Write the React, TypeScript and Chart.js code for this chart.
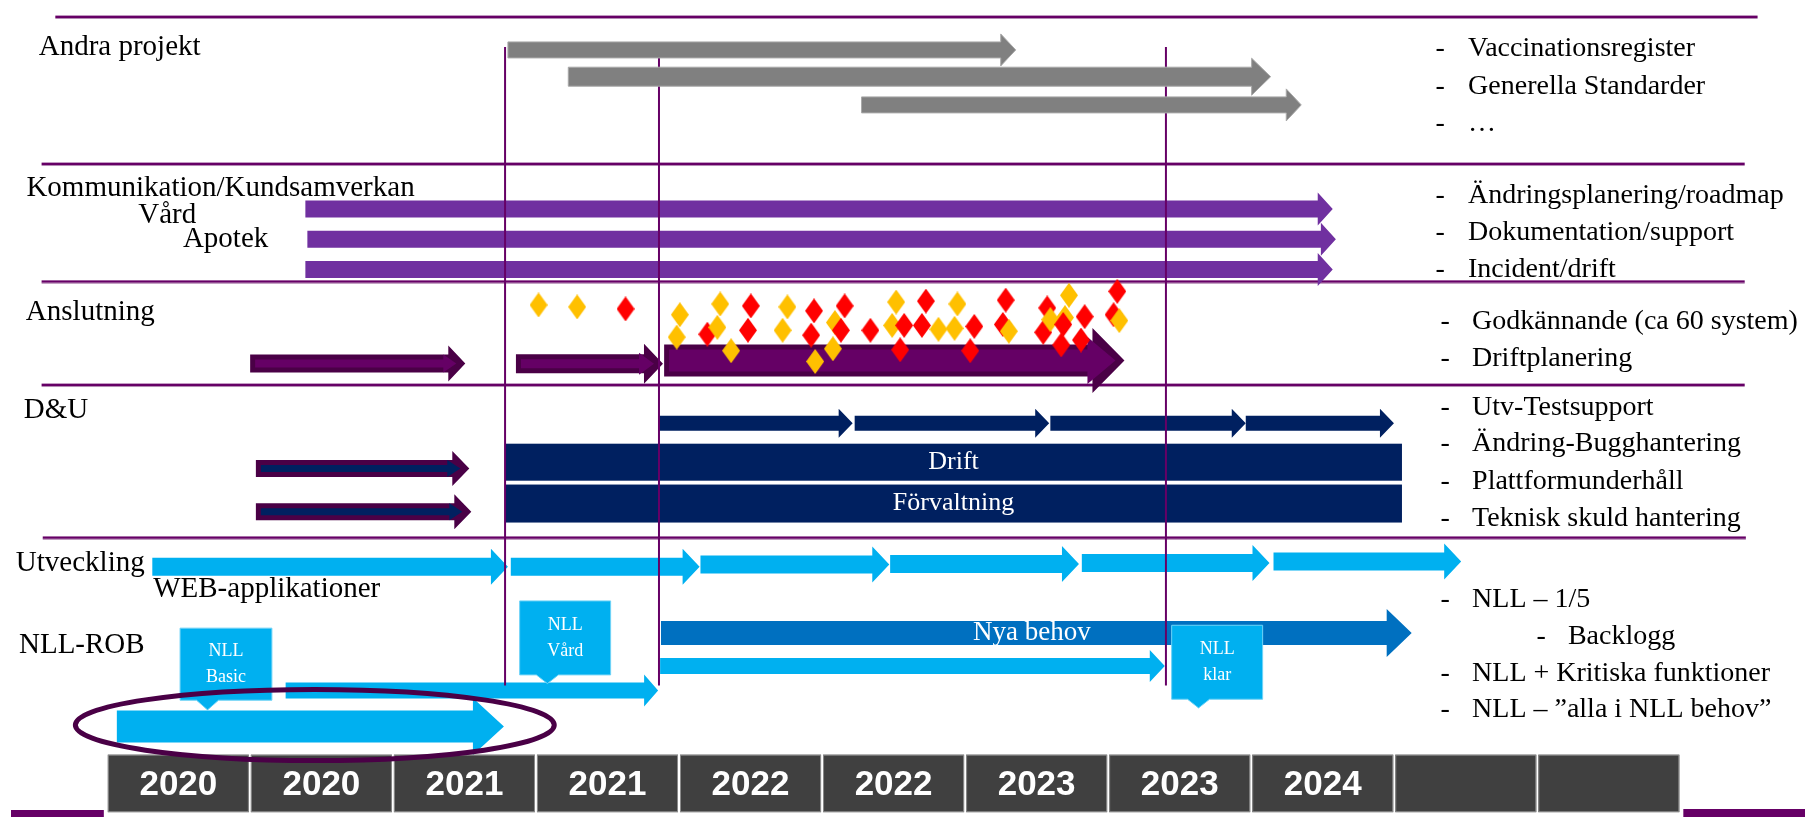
import React, { useEffect, useRef } from 'react';
import { Chart, registerables } from 'chart.js';

Chart.register(...registerables);

// ---------- axis ----------
const X_MIN = 2019.66506;
const X_MAX = 2025.93577;
const yearLabels = ['2020', '2020', '2021', '2021', '2022', '2022', '2023', '2023', '2024', '', ''];
const yearStart = 2020;
const yearStep = 0.5;

// ---------- sections (dividers) ----------
const dividerY = [0.72, 18.96, 33.57, 46.38, 65.34];
const dividerFrom = [2019.82, 2019.772, 2019.772, 2019.772, 2019.776];
const dividerTo = [2025.77, 2025.725, 2025.725, 2025.725, 2025.729];

// milestones (vertical lines)
const milestoneX = [2021.392, 2021.93, 2023.702];
const milestoneTop = [4.47, 5.8, 4.47];
const milestoneBottom = [83.7, 83.7, 83.7];

// ---------- Andra projekt ----------
const grayStart = [2021.402, 2021.613, 2022.638];
const grayEnd = [2023.177, 2024.068, 2024.175];
const grayLane = [4.83, 8.15, 11.65];

// ---------- Kommunikation ----------
const kommStart = [2020.694, 2020.701, 2020.694];
const kommEnd = [2024.285, 2024.296, 2024.285];
const kommLane = [24.58, 28.32, 32.07];

// ---------- Anslutning ----------
const anslStart = [2020.501, 2021.43, 2021.948];
const anslEnd = [2021.253, 2021.944, 2023.557];
const anslLane = [43.72, 43.78, 43.36];

const diamondX = [
  2021.509, 2021.644, 2021.813, 2022.003, 2021.992, 2022.144, 2022.099, 2022.134, 2022.182, 2022.251,
  2022.241, 2022.379, 2022.362, 2022.472, 2022.462, 2022.476, 2022.579, 2022.545, 2022.566, 2022.538,
  2022.669, 2022.759, 2022.745, 2022.787, 2022.863, 2022.849, 2022.773, 2022.907, 2022.963, 2022.973,
  2023.032, 2023.018, 2023.142, 2023.132, 2023.153, 2023.287, 2023.273, 2023.298, 2023.349, 2023.343,
  2023.363, 2023.418, 2023.336, 2023.405, 2023.532, 2023.519, 2023.539,
];
const diamondY = [
  36.47, 36.71, 36.96, 37.68, 40.46, 36.35, 40.1, 39.25, 42.15, 36.59,
  39.61, 36.71, 39.61, 37.2, 40.22, 43.48, 36.59, 38.65, 39.61, 41.91,
  39.61, 36.11, 39.01, 39.01, 35.99, 39.01, 42.03, 39.49, 39.37, 36.35,
  39.13, 42.15, 35.87, 38.89, 39.73, 36.84, 39.86, 38.29, 38.04, 38.89,
  35.27, 37.92, 41.43, 40.82, 34.78, 37.68, 38.41,
];
const diamondKind = [
  'y', 'y', 'r', 'y', 'y', 'y', 'r', 'y', 'y', 'r',
  'r', 'y', 'y', 'r', 'r', 'y', 'r', 'y', 'r', 'y',
  'r', 'y', 'y', 'r', 'r', 'r', 'r', 'y', 'y', 'y',
  'r', 'r', 'r', 'r', 'y', 'r', 'r', 'y', 'y', 'r',
  'y', 'r', 'r', 'r', 'r', 'r', 'y',
];

// ---------- D&U ----------
const duStart = [2020.521, 2020.521];
const duEnd = [2021.267, 2021.274];
const duLane = [56.76, 62.14];

const blockLabels = ['Drift', 'Förvaltning'];
const blockStart = [2021.392, 2021.392];
const blockEnd = [2024.527, 2024.527];
const blockLane = [55.98, 61.11];

const testStart = [2021.93, 2022.614, 2023.298, 2023.981];
const testEnd = [2022.607, 2023.294, 2023.981, 2024.499];
const testLane = [51.15, 51.15, 51.15, 51.15];

// ---------- Utveckling ----------
const utvStart = [2020.159, 2021.412, 2022.075, 2022.738, 2023.408, 2024.078];
const utvEnd = [2021.402, 2022.072, 2022.735, 2023.398, 2024.064, 2024.734];
const utvLane = [68.96, 68.96, 68.66, 68.6, 68.48, 68.3];

// ---------- NLL-ROB ----------
const nllStart = [2020.035, 2020.625, 2021.934];
const nllEnd = [2021.388, 2021.927, 2023.698];
const nllLane = [88.77, 84.3, 81.28];

const nyaLabel = 'Nya behov';
const nyaStart = 2021.937;
const nyaEnd = 2024.561;
const nyaLane = 77.17;

const calloutLines = [['NLL', 'Basic'], ['NLL', 'Vård'], ['NLL', 'klar']];
const calloutStart = [2020.256, 2021.443, 2023.722];
const calloutEnd = [2020.577, 2021.761, 2024.04];
const calloutTop = [76.57, 73.19, 76.21];
const calloutBottom = [85.51, 82.37, 85.39];
const calloutTipX = [2020.352, 2021.54, 2023.816];
const calloutTipY = [86.71, 83.45, 86.47];

const highlightX = [2019.89, 2021.564];
const highlightY = [84.18, 93.0];

// ---------- texts ----------
const leftLabels = ['Andra projekt', 'Kommunikation/Kundsamverkan', 'Vård', 'Apotek', 'Anslutning', 'D&U', 'Utveckling', 'WEB-applikationer', 'NLL-ROB'];
const leftX = [2019.762, 2019.719, 2020.11, 2020.266, 2019.717, 2019.71, 2019.682, 2020.162, 2019.693];
const leftY = [5.43, 22.95, 26.33, 29.23, 38.29, 50.48, 69.44, 72.71, 79.71];

const noteTexts = [
  'Vaccinationsregister', 'Generella Standarder', '…',
  'Ändringsplanering/roadmap', 'Dokumentation/support', 'Incident/drift',
  'Godkännande (ca 60 system)', 'Driftplanering',
  'Utv-Testsupport', 'Ändring-Bugghantering', 'Plattformunderhåll', 'Teknisk skuld hantering',
  'NLL – 1/5', 'Backlogg', 'NLL + Kritiska funktioner', 'NLL – ”alla i NLL behov”',
];
const noteDashX = [
  2024.644, 2024.644, 2024.644, 2024.644, 2024.644, 2024.644,
  2024.662, 2024.662, 2024.662, 2024.662, 2024.662, 2024.662,
  2024.662, 2024.997, 2024.662, 2024.662,
];
const noteTextX = [
  2024.758, 2024.758, 2024.758, 2024.758, 2024.758, 2024.758,
  2024.772, 2024.772, 2024.772, 2024.772, 2024.772, 2024.772,
  2024.772, 2025.107, 2024.772, 2024.772,
];
const noteY = [
  5.56, 10.27, 14.86, 23.79, 28.38, 32.97, 39.49, 44.08,
  50.12, 54.59, 59.3, 63.89, 73.91, 78.5, 83.09, 87.56,
];

const yearBoxTop = 92.27;
const yearBoxBottom = 99.4;

// ---------- styles ----------
const SERIF = '"Liberation Serif", "Times New Roman", serif';
const SANS = '"Liberation Sans", Arial, sans-serif';
const LINE = '#660066';

type ArrowStyle = { shaft: number; head: number; len: number; fill: string; outline?: string; edge?: string };

const grayStyle: ArrowStyle[] = [
  { shaft: 16, head: 16, len: 15, fill: '#808080', edge: '#A9A9A9' },
  { shaft: 19, head: 18.5, len: 19, fill: '#808080', edge: '#A9A9A9' },
  { shaft: 16, head: 16, len: 15, fill: '#808080', edge: '#A9A9A9' },
];
const kommStyle: ArrowStyle = { shaft: 17, head: 16.5, len: 15, fill: '#7030A0' };
const anslStyle: ArrowStyle[] = [
  { shaft: 18, head: 18, len: 17, fill: '#650065', outline: '#4A0046' },
  { shaft: 19, head: 20, len: 19, fill: '#650065', outline: '#4A0046' },
  { shaft: 32, head: 32.5, len: 32, fill: '#650065', outline: '#4A0046' },
];
const duStyle: ArrowStyle = { shaft: 17, head: 17.5, len: 17, fill: '#002060', outline: '#4A0046' };
const testStyle: ArrowStyle = { shaft: 15, head: 14.5, len: 14, fill: '#002060' };
const utvStyle: ArrowStyle = { shaft: 18, head: 18, len: 17, fill: '#00B0F0' };
const nllStyle: ArrowStyle[] = [
  { shaft: 32, head: 28.5, len: 31, fill: '#00B0F0' },
  { shaft: 16, head: 16, len: 14, fill: '#00B0F0' },
  { shaft: 16, head: 16, len: 15, fill: '#00B0F0' },
];
const nyaStyle: ArrowStyle = { shaft: 24, head: 24, len: 25, fill: '#0070C0' };
const blockHeight = [37, 38];

function arrowPath(ctx: CanvasRenderingContext2D, x0: number, x1: number, yc: number, sh: number, hh: number, hl: number) {
  ctx.beginPath();
  ctx.moveTo(x0, yc - sh / 2);
  ctx.lineTo(x1 - hl, yc - sh / 2);
  ctx.lineTo(x1 - hl, yc - hh);
  ctx.lineTo(x1, yc);
  ctx.lineTo(x1 - hl, yc + hh);
  ctx.lineTo(x1 - hl, yc + sh / 2);
  ctx.lineTo(x0, yc + sh / 2);
  ctx.closePath();
}

function drawArrow(ctx: CanvasRenderingContext2D, x0: number, x1: number, yc: number, s: ArrowStyle) {
  if (s.outline) {
    const b = 5;
    ctx.fillStyle = s.outline;
    arrowPath(ctx, x0, x1, yc, s.shaft, s.head, s.len);
    ctx.fill();
    ctx.fillStyle = s.fill;
    arrowPath(ctx, x0 + b, x1 - b * 1.8, yc, Math.max(2, s.shaft - 2 * b), Math.max(3, s.head - 1.8 * b), Math.max(3, s.len - b * 0.8));
    ctx.fill();
  } else {
    ctx.fillStyle = s.fill;
    arrowPath(ctx, x0, x1, yc, s.shaft, s.head, s.len);
    ctx.fill();
    if (s.edge) {
      ctx.strokeStyle = s.edge;
      ctx.lineWidth = 1;
      ctx.stroke();
    }
  }
}

const roadmapPlugin = {
  id: 'roadmap',
  beforeDatasetsDraw(chart: any) {
    const ctx: CanvasRenderingContext2D = chart.ctx;
    const xs = chart.scales.x;
    const ys = chart.scales.y;
    const X = (v: number) => xs.getPixelForValue(v);
    const Y = (v: number) => ys.getPixelForValue(v);
    ctx.save();

    // dividers
    dividerY.forEach((y, i) => {
      ctx.fillStyle = LINE;
      ctx.fillRect(X(dividerFrom[i]), Y(y) - 1.2, X(dividerTo[i]) - X(dividerFrom[i]), 2.4);
      ctx.fillStyle = '#B48AB4';
      ctx.fillRect(X(dividerFrom[i]), Y(y) + 1.2, X(dividerTo[i]) - X(dividerFrom[i]), 1);
    });

    // arrows
    kommStart.forEach((s, i) => drawArrow(ctx, X(s), X(kommEnd[i]), Y(kommLane[i]), kommStyle));
    anslStart.forEach((s, i) => drawArrow(ctx, X(s), X(anslEnd[i]), Y(anslLane[i]), anslStyle[i]));
    duStart.forEach((s, i) => drawArrow(ctx, X(s), X(duEnd[i]), Y(duLane[i]), duStyle));
    testStart.forEach((s, i) => drawArrow(ctx, X(s), X(testEnd[i]), Y(testLane[i]), testStyle));

    // blocks
    blockStart.forEach((s, i) => {
      const x0 = X(s);
      const x1 = X(blockEnd[i]);
      const yc = Y(blockLane[i]);
      ctx.fillStyle = '#002060';
      ctx.fillRect(x0, yc - blockHeight[i] / 2, x1 - x0, blockHeight[i]);
      ctx.fillStyle = '#FFFFFF';
      ctx.font = `26px ${SERIF}`;
      ctx.textAlign = 'center';
      ctx.textBaseline = 'middle';
      ctx.fillText(blockLabels[i], (x0 + x1) / 2, yc);
    });

    utvStart.forEach((s, i) => drawArrow(ctx, X(s), X(utvEnd[i]), Y(utvLane[i]), utvStyle));
    drawArrow(ctx, X(nyaStart), X(nyaEnd), Y(nyaLane), nyaStyle);
    ctx.fillStyle = '#FFFFFF';
    ctx.font = `27px ${SERIF}`;
    ctx.textAlign = 'center';
    ctx.textBaseline = 'middle';
    ctx.fillText(nyaLabel, (X(nyaStart) + X(nyaEnd) - nyaStyle.len) / 2 + 8, Y(nyaLane));
    nllStart.forEach((s, i) => drawArrow(ctx, X(s), X(nllEnd[i]), Y(nllLane[i]), nllStyle[i]));

    // left labels
    ctx.fillStyle = '#000000';
    ctx.font = `29px ${SERIF}`;
    ctx.textAlign = 'left';
    ctx.textBaseline = 'alphabetic';
    leftLabels.forEach((t, i) => ctx.fillText(t, X(leftX[i]), Y(leftY[i])));

    // notes
    ctx.font = `28px ${SERIF}`;
    noteTexts.forEach((t, i) => {
      ctx.fillText('-', X(noteDashX[i]), Y(noteY[i]));
      ctx.fillText(t, X(noteTextX[i]), Y(noteY[i]));
    });

    // year boxes
    yearLabels.forEach((lab, i) => {
      const x0 = X(yearStart + i * yearStep) + 1;
      const x1 = X(yearStart + (i + 1) * yearStep) - 1;
      const y0 = Y(yearBoxTop);
      const y1 = Y(yearBoxBottom);
      ctx.fillStyle = '#404040';
      ctx.fillRect(x0, y0, x1 - x0, y1 - y0);
      ctx.strokeStyle = '#8C8C8C';
      ctx.lineWidth = 1;
      ctx.strokeRect(x0 + 0.5, y0 + 0.5, x1 - x0 - 1, y1 - y0 - 1);
      if (lab) {
        ctx.fillStyle = '#FFFFFF';
        ctx.font = `bold 35px ${SANS}`;
        ctx.textAlign = 'center';
        ctx.textBaseline = 'middle';
        ctx.fillText(lab, (x0 + x1) / 2, (y0 + y1) / 2 + 2);
      }
    });
    ctx.restore();
  },
  afterDatasetsDraw(chart: any) {
    const ctx: CanvasRenderingContext2D = chart.ctx;
    const xs = chart.scales.x;
    const ys = chart.scales.y;
    const X = (v: number) => xs.getPixelForValue(v);
    const Y = (v: number) => ys.getPixelForValue(v);
    const area = chart.chartArea;
    ctx.save();

    // milestone lines
    ctx.strokeStyle = LINE;
    ctx.lineWidth = 2;
    milestoneX.forEach((x, i) => {
      ctx.beginPath();
      ctx.moveTo(X(x), Y(milestoneTop[i]));
      ctx.lineTo(X(x), Y(milestoneBottom[i]));
      ctx.stroke();
    });

    // gray project arrows lie above the milestone lines
    grayStart.forEach((s, i) => drawArrow(ctx, X(s), X(grayEnd[i]), Y(grayLane[i]), grayStyle[i]));

    // callouts
    calloutStart.forEach((s, i) => {
      const x0 = X(s);
      const x1 = X(calloutEnd[i]);
      const y0 = Y(calloutTop[i]);
      const y1 = Y(calloutBottom[i]);
      const tx = X(calloutTipX[i]);
      const ty = Y(calloutTipY[i]);
      ctx.beginPath();
      ctx.moveTo(x0, y0);
      ctx.lineTo(x1, y0);
      ctx.lineTo(x1, y1);
      ctx.lineTo(tx + 11, y1);
      ctx.lineTo(tx, ty);
      ctx.lineTo(tx - 11, y1);
      ctx.lineTo(x0, y1);
      ctx.closePath();
      ctx.fillStyle = '#00B0F0';
      ctx.fill();
      ctx.strokeStyle = '#6FD3F7';
      ctx.lineWidth = 1;
      ctx.stroke();
      ctx.fillStyle = '#FFFFFF';
      ctx.font = `18px ${SERIF}`;
      ctx.textAlign = 'center';
      ctx.textBaseline = 'middle';
      const cx = (x0 + x1) / 2;
      const cy = (y0 + y1) / 2;
      ctx.fillText(calloutLines[i][0], cx, cy - 13);
      ctx.fillText(calloutLines[i][1], cx, cy + 13);
    });

    // highlight ellipse
    const ex0 = X(highlightX[0]);
    const ex1 = X(highlightX[1]);
    const ey0 = Y(highlightY[0]);
    const ey1 = Y(highlightY[1]);
    ctx.beginPath();
    ctx.ellipse((ex0 + ex1) / 2, (ey0 + ey1) / 2, (ex1 - ex0) / 2, (ey1 - ey0) / 2, 0, 0, Math.PI * 2);
    ctx.strokeStyle = '#4A0046';
    ctx.lineWidth = 5;
    ctx.stroke();

    // bottom accents
    const bx0 = X(yearStart) - 3;
    const bx1 = X(yearStart + yearLabels.length * yearStep) + 3;
    ctx.fillStyle = LINE;
    ctx.fillRect(area.left, area.bottom - 7, bx0 - area.left, 7);
    ctx.fillRect(bx1, area.bottom - 8, area.right - bx1, 8);
    ctx.restore();
  },
};

function diamondCanvas(color: string) {
  const c = document.createElement('canvas');
  c.width = 18;
  c.height = 25;
  const g = c.getContext('2d')!;
  g.fillStyle = color;
  g.beginPath();
  g.moveTo(9, 0);
  g.lineTo(18, 12.5);
  g.lineTo(9, 25);
  g.lineTo(0, 12.5);
  g.closePath();
  g.fill();
  return c;
}

export default function App() {
  const ref = useRef<HTMLCanvasElement>(null);
  useEffect(() => {
    document.body.style.margin = '0';
    document.body.style.overflow = 'hidden';
    const canvas = ref.current!;
    const red = diamondCanvas('#FF0000');
    const yellow = diamondCanvas('#FFC000');
    const chart = new Chart(canvas, {
      type: 'scatter',
      data: {
        datasets: [
          {
            label: 'Godkännande',
            data: diamondX.map((x, i) => ({ x, y: diamondY[i] })),
            pointStyle: (c: any) => (diamondKind[c.dataIndex] === 'r' ? red : yellow),
            pointRadius: 10,
            pointHoverRadius: 10,
          } as any,
        ],
      },
      options: {
        animation: false,
        responsive: false,
        events: [],
        layout: { padding: 0 },
        plugins: { legend: { display: false }, tooltip: { enabled: false } },
        scales: {
          x: { type: 'linear', min: X_MIN, max: X_MAX, display: false },
          y: { type: 'linear', min: 0, max: 100, reverse: true, display: false },
        },
      },
      plugins: [roadmapPlugin],
    });
    return () => chart.destroy();
  }, []);
  return <canvas ref={ref} width={1816} height={828} style={{ display: 'block', width: 1816, height: 828 }} />;
}
